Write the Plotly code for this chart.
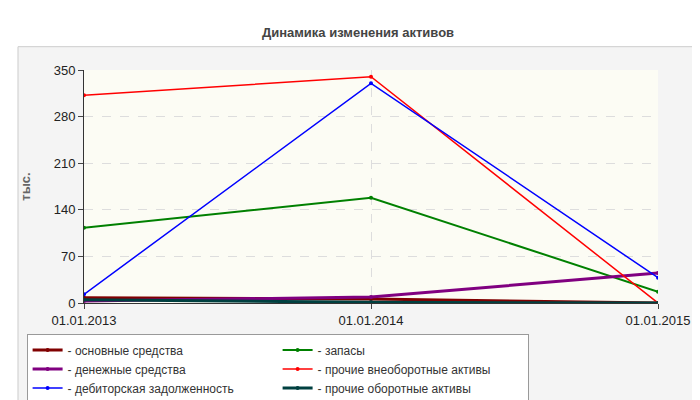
import plotly.graph_objects as go

dates = ["01.01.2013", "01.01.2014", "01.01.2015"]
names = ["основные средства", "запасы", "денежные средства",
         "прочие внеоборотные активы", "дебиторская задолженность", "прочие оборотные активы"]
osn = [8, 6, 0]
zapasy = [113, 158, 17]
den = [3, 9, 45]
proch_vn = [312, 340, 0]
debitor = [13, 330, 38]
proch_ob = [5, 1, 0]
colors = ["#800000", "#008000", "#800080", "#ff0000", "#0000ff", "#004040"]
widths = [3, 2, 3, 1.5, 1.5, 3]
series = [osn, zapasy, den, proch_vn, debitor, proch_ob]

fig = go.Figure()
for n, s, c, w in zip(names, series, colors, widths):
    fig.add_trace(go.Scatter(x=[0, 1, 2], y=s, name="- " + n, mode="lines+markers",
                             line=dict(color=c, width=w), marker=dict(size=4, color=c)))

fig.update_layout(
    width=700, height=400, paper_bgcolor="white", plot_bgcolor="rgba(0,0,0,0)",
    margin=dict(l=76, r=50, t=62, b=105, autoexpand=False),
    font=dict(family="Arial, Liberation Sans", size=12, color="#222"),
    title=dict(text="<b>Динамика изменения активов</b>", x=0.5, y=0.95, xanchor="center",
               font=dict(size=13, color="#444")),
    showlegend=True,
    legend=dict(orientation="h", x=-0.1, y=-0.135, xanchor="left", yanchor="top",
                bgcolor="white", bordercolor="#999", borderwidth=1, entrywidth=205,
                font=dict(size=12, color="#333")),
    xaxis=dict(range=[0, 2], tickvals=[0, 1, 2], ticktext=dates, showgrid=True,
               gridcolor="#ddd", griddash="dash", showline=True, linecolor="#333",
               ticks="outside", tickfont=dict(size=13, color="#222"), zeroline=False),
    yaxis=dict(range=[0, 350], tickvals=[0, 70, 140, 210, 280, 350], showgrid=True,
               gridcolor="#ddd", griddash="dash", showline=True, linecolor="#333",
               ticks="outside", tickfont=dict(size=13, color="#222"), zeroline=False,
               title=dict(text="<b>тыс.</b>", font=dict(size=13, color="#666"), standoff=20)),
    shapes=[dict(type="rect", xref="paper", yref="paper", x0=-0.115, x1=1.065, y0=-0.43, y1=1.1,
                 fillcolor="#f4f4f4", line=dict(color="#ccc", width=1), layer="below"),
            dict(type="rect", xref="paper", yref="paper", x0=0, x1=1, y0=0, y1=1,
                 fillcolor="#fcfcf4", line=dict(width=0), layer="below")],
)
fig.write_html("out.html")
